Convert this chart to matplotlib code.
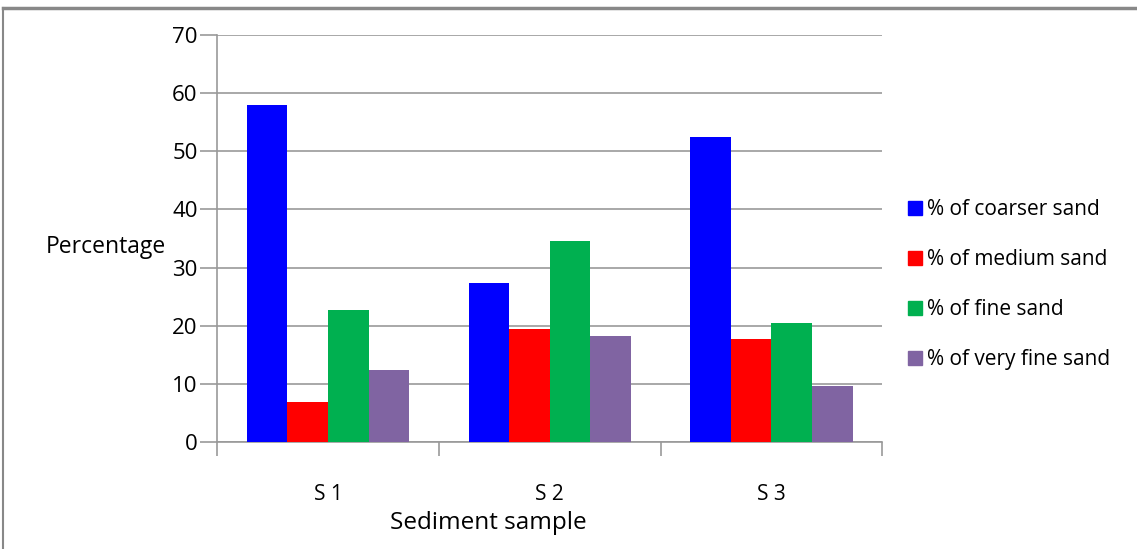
import numpy as np
import matplotlib.pyplot as plt
from matplotlib.lines import Line2D

# dados
amostras = ["S 1", "S 2", "S 3"]
series = ["% of coarser sand", "% of medium sand", "% of fine sand", "% of very fine sand"]
grossa = [58.0, 27.4, 52.5]
media = [6.8, 19.5, 17.7]
fina = [22.7, 34.6, 20.4]
muito_fina = [12.3, 18.3, 9.6]
cores = ["#0000FF", "#FF0000", "#00B050", "#8064A2"]

plt.rcParams['font.family'] = ['Open Sans', 'DejaVu Sans']

fig = plt.figure(figsize=(11.37, 5.49), dpi=100)
ax = fig.add_axes([0.191, 0.195, 0.585, 0.741])

x = np.arange(len(amostras))
largura = 0.183
valores = [grossa, media, fina, muito_fina]
for i, (vals, cor) in enumerate(zip(valores, cores)):
    ax.bar(x + (i - 1.5) * largura, vals, largura, color=cor, label=series[i], zorder=3)

ax.set_xlim(-0.5, 2.5)
ax.set_ylim(0, 70)
ax.set_yticks(range(0, 71, 10))
ax.yaxis.grid(True, color="#999999", linewidth=1.2, zorder=0)
ax.set_xticks(x)
ax.set_xticklabels(amostras, fontsize=15)
ax.set_xticks([-0.5, 0.5, 1.5, 2.5], minor=True)
ax.tick_params(axis="x", which="major", length=0, pad=30)
ax.tick_params(axis="x", which="minor", length=10, color="#999999", width=1.2)
ax.tick_params(axis="y", length=12, color="#999999", width=1.2, labelsize=16, pad=2)
for lado in ["top", "right"]:
    ax.spines[lado].set_visible(False)
for lado in ["left", "bottom"]:
    ax.spines[lado].set_color("#999999")
    ax.spines[lado].set_linewidth(1.2)

ax.set_ylabel("Percentage", rotation=0, fontsize=16.5, va="center", ha="center")
ax.yaxis.set_label_coords(-0.168, 0.479)
ax.set_xlabel("Sediment sample", fontsize=17.5)
ax.xaxis.set_label_coords(0.407, -0.17)

# legenda com quadradinhos
marcas = [Line2D([], [], marker="s", linestyle="", color=c, markersize=10) for c in cores]
fig.legend(marcas, series, loc="upper left", bbox_to_anchor=(0.779, 0.672),
           frameon=False, fontsize=15, labelspacing=1.4, handletextpad=0.1,
           handlelength=1.0)

# moldura cinza
fig.add_artist(Line2D([3 / 1137, 1], [1 - 8 / 549, 1 - 8 / 549], color="#888888", linewidth=2.5))
fig.add_artist(Line2D([3 / 1137, 3 / 1137], [0, 1 - 8 / 549], color="#888888", linewidth=1.5))

fig.savefig("out.png", dpi=100)
